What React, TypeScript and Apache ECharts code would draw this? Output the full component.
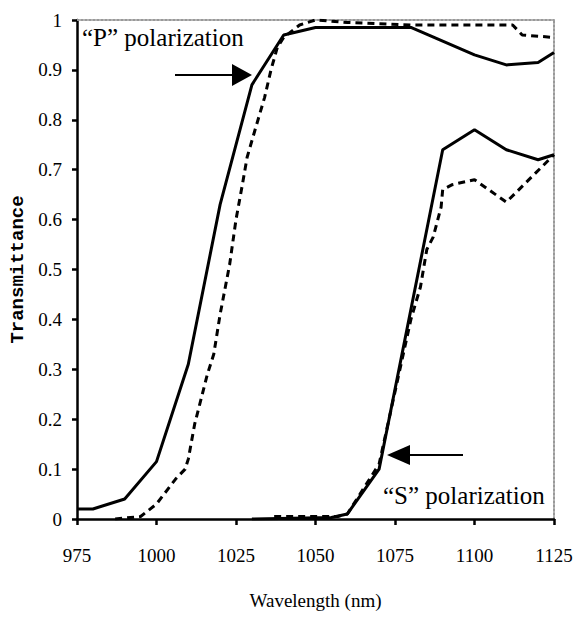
import React, { useEffect, useRef } from "react";
import * as echarts from "echarts";

const xTicks = { min: 975, max: 1125, interval: 25 };
const yTicks = { min: 0, max: 1, interval: 0.1 };

const pSolid: [number, number][] = [
  [975, 0.02], [980, 0.02], [990, 0.04], [1000, 0.115], [1010, 0.31], [1020, 0.63],
  [1030, 0.87], [1040, 0.97], [1050, 0.985], [1080, 0.985], [1100, 0.93], [1110, 0.91],
  [1120, 0.915], [1125, 0.935],
];
const pDashed: [number, number][] = [
  [987, 0], [995, 0.005], [1000, 0.03], [1006, 0.08], [1009, 0.1], [1010, 0.12], [1012, 0.19],
  [1016, 0.29], [1018, 0.33], [1020, 0.41], [1023, 0.51], [1025, 0.6], [1027, 0.67],
  [1028.5, 0.725], [1031, 0.78], [1034, 0.845], [1036, 0.9], [1038, 0.945], [1040, 0.965],
  [1045, 0.99], [1050, 1.0], [1060, 0.995], [1080, 0.99], [1100, 0.99], [1112, 0.99],
  [1115, 0.97], [1125, 0.965],
];
const sSolid: [number, number][] = [
  [1030, 0], [1055, 0.003], [1060, 0.01], [1070, 0.1], [1090, 0.74], [1100, 0.78],
  [1110, 0.74], [1120, 0.72], [1125, 0.73],
];
const sDashed: [number, number][] = [
  [1037, 0.005], [1057, 0.005], [1060, 0.01], [1070, 0.11], [1080, 0.4], [1083, 0.465],
  [1085, 0.54], [1087, 0.565], [1089.5, 0.625], [1090, 0.66], [1093, 0.67], [1100, 0.68],
  [1110, 0.635], [1125, 0.73],
];

const labelP = "\u201cP\u201d polarization";
const labelS = "\u201cS\u201d polarization";
const xName = "Wavelength (nm)";
const yName = "Transmittance";

const serif = "Times New Roman";
const mono = "Liberation Mono";

export default function App() {
  const ref = useRef<HTMLDivElement>(null);
  useEffect(() => {
    if (!ref.current) return;
    const chart = echarts.init(ref.current, undefined, { renderer: "svg" });
    const lineSeries = (data: [number, number][], dashed: boolean) => ({
      type: "line",
      data,
      showSymbol: false,
      symbol: "none",
      lineStyle: { color: "#000", width: 3, type: dashed ? [7, 5] : "solid" },
      z: 3,
    });
    const tickText = { fontFamily: serif, fontSize: 19, color: "#000", fontWeight: "normal" };
    chart.setOption({
      animation: false,
      backgroundColor: "#fff",
      textStyle: { fontFamily: serif },
      grid: { left: 77, right: 19, top: 20, bottom: 100, containLabel: false, outerBoundsMode: "none" },
      xAxis: [
        {
          type: "value",
          min: xTicks.min,
          max: xTicks.max,
          interval: xTicks.interval,
          name: xName,
          nameLocation: "middle",
          nameGap: 72,
          nameTextStyle: { ...tickText, fontSize: 19 },
          axisLine: { onZero: false, lineStyle: { color: "#000", width: 2.5 } },
          axisTick: { show: true, inside: false, length: 6, lineStyle: { color: "#000", width: 2.5 } },
          axisLabel: {
            ...tickText,
            margin: 27,
            formatter: (v: number) => String(v),
          },
          splitLine: { show: false },
        },
        {
          type: "value",
          position: "top",
          min: xTicks.min,
          max: xTicks.max,
          axisLine: { show: true, onZero: false, lineStyle: { color: "#999", width: 2, type: "dotted" } },
          axisTick: { show: false },
          axisLabel: { show: false },
          splitLine: { show: false },
        },
      ],
      yAxis: [
        {
          type: "value",
          min: yTicks.min,
          max: yTicks.max,
          interval: yTicks.interval,
          name: yName,
          nameLocation: "middle",
          nameGap: 50,
          nameTextStyle: {
            fontFamily: mono,
            fontWeight: "bold",
            fontSize: 19,
            color: "#000",
          },
          axisLine: { show: true, onZero: false, lineStyle: { color: "#000", width: 2.5 } },
          axisTick: { show: true, inside: false, length: 5, lineStyle: { color: "#000", width: 2.5 } },
          axisLabel: {
            ...tickText,
            margin: 15,
            formatter: (v: number) => String(Number(v.toFixed(1))),
          },
          splitLine: { show: false },
        },
        {
          type: "value",
          position: "right",
          min: yTicks.min,
          max: yTicks.max,
          axisLine: { show: true, onZero: false, lineStyle: { color: "#999", width: 2, type: "dotted" } },
          axisTick: { show: false },
          axisLabel: { show: false },
          splitLine: { show: false },
        },
      ],
      series: [
        lineSeries(pSolid, false),
        lineSeries(pDashed, true),
        lineSeries(sSolid, false),
        lineSeries(sDashed, true),
      ],
      graphic: [
        {
          type: "text",
          x: 82,
          y: 37,
          z: 10,
          style: { text: labelP, fontFamily: serif, fontSize: 25, fill: "#000", verticalAlign: "middle", align: "left" },
        },
        {
          type: "text",
          x: 383,
          y: 495,
          z: 10,
          style: { text: labelS, fontFamily: serif, fontSize: 25, fill: "#000", verticalAlign: "middle", align: "left" },
        },
        { type: "line", z: 10, shape: { x1: 175, y1: 75, x2: 234, y2: 75 }, style: { stroke: "#000", lineWidth: 2 } },
        { type: "polygon", z: 10, shape: { points: [[232, 64], [252, 75], [232, 86]] }, style: { fill: "#000" } },
        { type: "line", z: 10, shape: { x1: 408, y1: 455, x2: 463, y2: 455 }, style: { stroke: "#000", lineWidth: 2 } },
        { type: "polygon", z: 10, shape: { points: [[410, 445], [387, 455], [410, 465]] }, style: { fill: "#000" } },
      ],
    });
    return () => chart.dispose();
  }, []);
  return (
    <div
      ref={ref}
      style={{ position: "fixed", left: 0, top: 0, width: 573, height: 619, background: "#fff" }}
    />
  );
}
